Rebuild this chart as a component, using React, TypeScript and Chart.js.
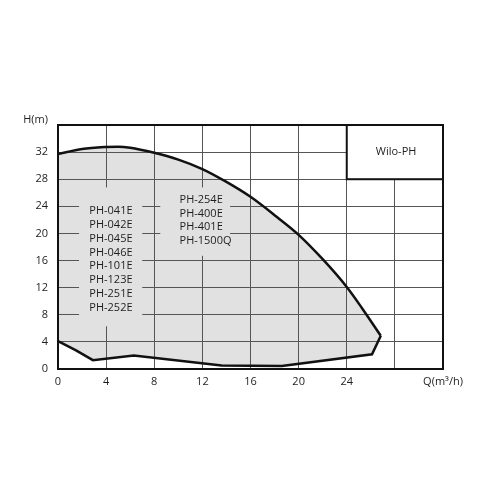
import React, { useEffect, useRef } from 'react';
import { Chart, registerables } from 'chart.js';

Chart.register(...registerables);

// Pump envelope (Q in m³/h, H in m)
const upperQ = [0, 2, 4, 5, 6, 8, 10, 12, 14, 16, 18, 20, 22, 24, 25.3, 26.83];
const upperH = [31.7, 32.45, 32.75, 32.8, 32.65, 31.9, 30.9, 29.5, 27.6, 25.4, 22.7, 19.8, 16.2, 12.1, 8.9, 4.9];
const lowerQ = [26.83, 26.1, 18.6, 13.6, 6.3, 2.9, 1.5, 0];
const lowerH = [4.9, 2.17, 0.45, 0.5, 2.0, 1.3, 2.75, 4.1];

const xTickLabels: Record<number, string> = { 0: '0', 4: '4', 8: '8', 12: '12', 16: '16', 20: '20', 24: '24', 28: '', 32: 'Q(m³/h)' };
const yTickLabels: Record<number, string> = { 0: '0', 4: '4', 8: '8', 12: '12', 16: '16', 20: '20', 24: '24', 28: '28', 32: '32', 36: '' };

const modelsLeft = ['PH-041E', 'PH-042E', 'PH-045E', 'PH-046E', 'PH-101E', 'PH-123E', 'PH-251E', 'PH-252E'];
const modelsRight = ['PH-254E', 'PH-400E', 'PH-401E', 'PH-1500Q'];
const seriesTitle = 'Wilo-PH';
const yTitle = 'H(m)';

const FILL = '#e1e1e1';
const FONT = '"Open Sans", "DejaVu Sans", sans-serif';
const TEXT = '#1e1e1e';

const toPts = (xs: number[], ys: number[]) => xs.map((x, i) => ({ x, y: ys[i] }));

const overlayPlugin = {
  id: 'overlay',
  beforeDatasetsDraw(chart: any) {
    const { ctx, chartArea, scales } = chart;
    const xs = scales.x;
    const ys = scales.y;
    const px = (v: number) => xs.getPixelForValue(v);
    const py = (v: number) => ys.getPixelForValue(v);
    ctx.save();
    // gaps in the grid behind the label blocks
    ctx.fillStyle = FILL;
    const rect = (x0: number, x1: number, y0: number, y1: number) => {
      ctx.fillRect(px(x0), py(y1), px(x1) - px(x0), py(y0) - py(y1));
    };
    rect(1.75, 7.0, 6.3, 26.8);
    rect(8.5, 14.3, 16.7, 26.8);
    // title box
    ctx.fillStyle = '#ffffff';
    ctx.fillRect(px(24), py(36), px(32) - px(24), py(28) - py(36));
    ctx.strokeStyle = '#111';
    ctx.lineWidth = 2;
    ctx.strokeRect(px(24), py(36), px(32) - px(24), py(28) - py(36));
    // texts
    ctx.fillStyle = TEXT;
    ctx.font = `11px ${FONT}`;
    ctx.textBaseline = 'middle';
    ctx.textAlign = 'left';
    const lh = 13.9;
    modelsLeft.forEach((t, i) => ctx.fillText(t, px(2.6), py(23.35) + i * lh));
    modelsRight.forEach((t, i) => ctx.fillText(t, px(10.1), py(25.0) + i * lh));
    ctx.textAlign = 'center';
    ctx.fillText(seriesTitle, px(28.1), py(32));
    ctx.textAlign = 'right';
    ctx.fillText(yTitle, chartArea.left - 10, chartArea.top - 5);
    ctx.restore();
  },
  afterDatasetsDraw(chart: any) {
    const { ctx, chartArea } = chart;
    ctx.save();
    ctx.strokeStyle = '#111';
    ctx.lineWidth = 2;
    ctx.strokeRect(chartArea.left, chartArea.top, chartArea.right - chartArea.left, chartArea.bottom - chartArea.top);
    ctx.restore();
  },
};

export default function App() {
  const ref = useRef<HTMLCanvasElement>(null);
  useEffect(() => {
    if (!ref.current) return;
    const chart = new Chart(ref.current, {
      type: 'scatter',
      data: {
        datasets: [
          {
            data: toPts(upperQ, upperH),
            showLine: true,
            borderColor: '#111',
            borderWidth: 2.5,
            pointRadius: 0,
            cubicInterpolationMode: 'monotone',
            fill: false,
          },
          {
            data: toPts(lowerQ, lowerH),
            showLine: true,
            borderColor: '#111',
            borderWidth: 2.5,
            pointRadius: 0,
            tension: 0,
            fill: false,
          },
          {
            data: [...toPts(upperQ, upperH), ...toPts(lowerQ, lowerH)],
            showLine: true,
            borderWidth: 0,
            borderColor: 'rgba(0,0,0,0)',
            backgroundColor: FILL,
            pointRadius: 0,
            tension: 0,
            fill: 'shape',
          },
        ],
      },
      options: {
        animation: false,
        responsive: true,
        maintainAspectRatio: false,
        layout: { padding: { left: 0, top: 117, right: 49, bottom: 93 } },
        plugins: {
          legend: { display: false },
          tooltip: { enabled: false },
          filler: { drawTime: 'beforeDraw' },
        },
        scales: {
          x: {
            type: 'linear',
            min: 0,
            max: 32,
            afterFit: (s: any) => { s.height = 30; },
            ticks: {
              stepSize: 4,
              padding: 6,
              color: TEXT,
              font: { family: FONT, size: 11 },
              maxRotation: 0,
              callback: (v: any) => xTickLabels[v as number] ?? '',
            },
            grid: { color: '#555555', lineWidth: 1, drawTicks: false },
            border: { display: false },
          },
          y: {
            type: 'linear',
            min: 0,
            max: 36,
            afterFit: (s: any) => { s.width = 50; },
            ticks: {
              stepSize: 4,
              padding: 10,
              color: TEXT,
              font: { family: FONT, size: 11 },
              callback: (v: any) => yTickLabels[v as number] ?? '',
            },
            grid: { color: '#555555', lineWidth: 1, drawTicks: false },
            border: { display: false },
          },
        },
      },
      plugins: [overlayPlugin],
    });
    return () => chart.destroy();
  }, []);
  return (
    <div style={{ position: 'relative', width: 484, height: 484 }}>
      <canvas ref={ref} />
    </div>
  );
}
